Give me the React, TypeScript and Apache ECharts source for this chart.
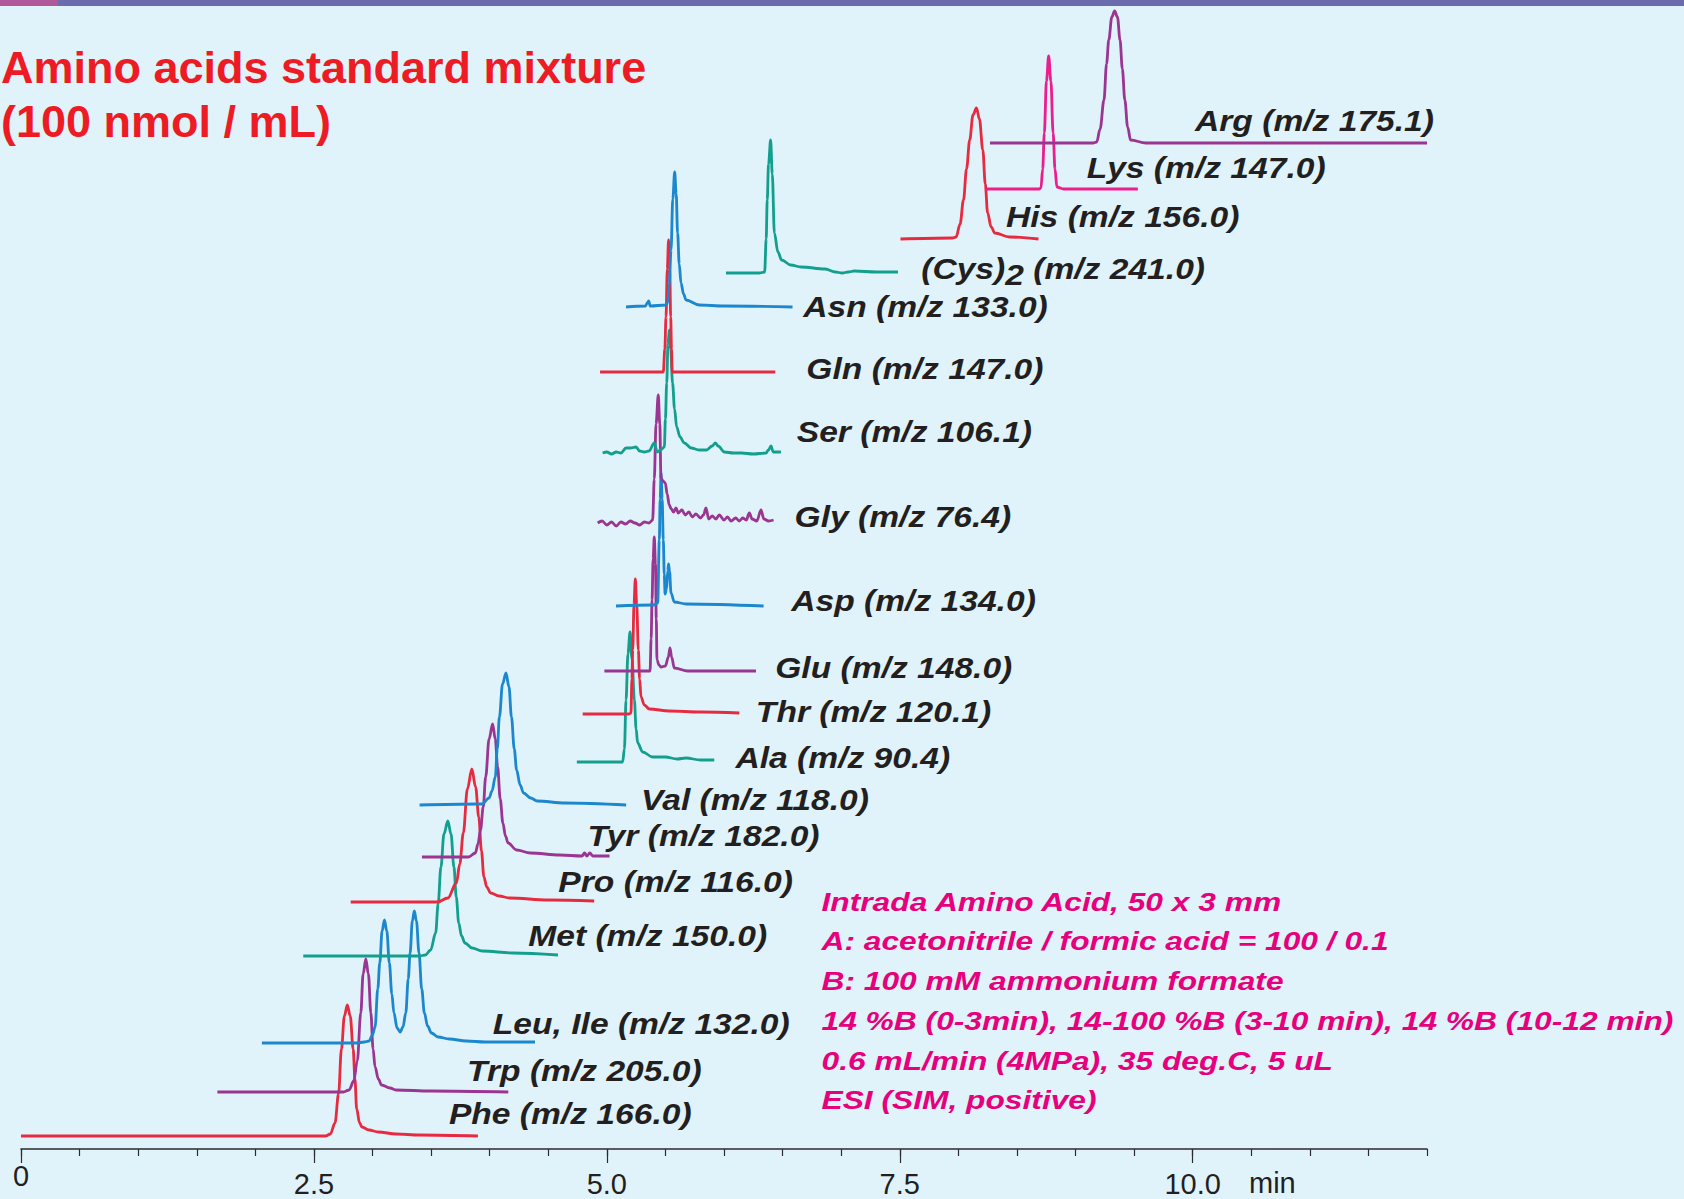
import React, { useEffect, useRef } from "react";
import * as echarts from "echarts";

// ---- colours ----
const RED = "#E62A3F";
const PURPLE = "#9A3592";
const BLUE = "#1A87CE";
const TEAL = "#129F8D";
const PINK = "#EB1E8E";
const BG = "#E1F3FA";
const INK = "#231F20";

// ---- axis ticks (minutes) ----
const minorTicks = [0, 0.5, 1, 1.5, 2, 2.5, 3, 3.5, 4, 4.5, 5, 5.5, 6, 6.5, 7, 7.5, 8, 8.5, 9, 9.5, 10, 10.5, 11, 11.5, 12];
const majorTicks = [0, 2.5, 5, 7.5, 10];

// ---- traces: [retention time (min), stacked signal height] ----
const phe = [[0,13],[2.60,13],[2.64,15],[2.68,26],[2.71,55],[2.735,100],[2.76,133],[2.785,144],[2.81,133],[2.835,100],[2.85,70],[2.865,40],[2.89,26],[2.91,22],[2.97,19],[3.05,17],[3.20,15],[3.40,14],[3.90,13]];
const trp = [[1.676,57],[2.75,57],[2.80,59],[2.84,68],[2.87,88],[2.90,136],[2.92,175],[2.943,190],[2.965,175],[2.986,136],[3.005,100],[3.022,82],[3.05,70],[3.077,64],[3.15,61],[3.20,59],[3.50,58],[4.159,57]];
const leuIle = [[2.056,106],[2.86,106],[2.93,107],[2.97,108],[3.00,114],[3.022,122],[3.045,160],[3.062,186],[3.082,218],[3.102,229],[3.122,218],[3.144,186],[3.165,155],[3.183,136],[3.21,121],[3.236,117],[3.26,122],[3.284,136],[3.305,170],[3.321,196],[3.34,228],[3.357,238],[3.375,228],[3.397,196],[3.42,160],[3.443,136],[3.47,123],[3.503,116],[3.56,112],[3.656,110],[3.80,108],[3.961,107],[4.387,107]];
const met = [[2.409,193],[3.40,193],[3.451,194],[3.496,199],[3.539,216],[3.56,245],[3.584,282],[3.61,315],[3.643,328],[3.67,315],[3.695,282],[3.715,252],[3.736,226],[3.76,213],[3.789,206],[3.85,201],[3.936,198],[4.201,196],[4.583,194]];
const pro = [[2.814,247],[3.50,247],[3.555,247],[3.643,251],[3.716,266],[3.745,285],[3.775,316],[3.81,360],[3.848,380],[3.88,362],[3.907,332],[3.93,298],[3.951,272],[3.975,262],[4.009,256],[4.08,253],[4.171,251],[4.50,249],[4.892,248]];
const tyr = [[3.422,292],[3.819,292],[3.878,296],[3.90,305],[3.922,319],[3.945,342],[3.966,372],[3.995,410],[4.025,425],[4.048,410],[4.068,382],[4.09,350],[4.113,326],[4.135,313],[4.157,306],[4.23,299],[4.347,296],[4.60,294],[4.788,293],[4.81,296],[4.83,293],[4.855,296],[4.88,293],[5.023,293]];
const val = [[3.402,344],[3.90,345],[3.936,345],[3.995,351],[4.02,358],[4.048,372],[4.065,400],[4.083,432],[4.11,465],[4.139,476],[4.165,462],[4.186,432],[4.21,400],[4.23,379],[4.26,364],[4.289,356],[4.35,351],[4.406,348],[4.642,346],[5.165,344]];
const ala = [[4.744,387],[5.0,387],[5.135,387],[5.15,400],[5.164,449],[5.18,495],[5.198,517],[5.215,490],[5.235,449],[5.25,420],[5.263,406],[5.306,397],[5.391,392],[5.50,392],[5.60,390],[5.676,391],[5.80,389],[5.917,389]];
const thr = [[4.794,435],[5.19,435],[5.206,436],[5.214,470],[5.221,499],[5.232,545],[5.243,570],[5.255,545],[5.269,499],[5.28,470],[5.292,452],[5.32,444],[5.363,440],[5.533,438],[5.80,437],[6.131,436]];
const glu = [[4.979,478],[5.369,478],[5.378,510],[5.386,549],[5.395,590],[5.405,612],[5.415,585],[5.422,530],[5.428,489],[5.445,484],[5.462,482],[5.50,483],[5.525,492],[5.539,501],[5.553,492],[5.576,481],[5.69,478],[6.273,478]];
const asp = [[5.078,543],[5.40,544],[5.434,546],[5.448,609],[5.455,650],[5.463,676],[5.472,650],[5.482,609],[5.49,575],[5.497,555],[5.51,560],[5.52,578],[5.527,585],[5.535,578],[5.548,556],[5.576,547],[5.68,545],[6.338,543]];
const gly = [[4.922,626],[4.96,628],[5.0,624],[5.04,627],[5.08,623],[5.12,627],[5.16,625],[5.20,628],[5.24,626],[5.28,624],[5.32,627],[5.36,626],[5.391,629],[5.405,670],[5.42,725],[5.439,754],[5.452,725],[5.462,671],[5.48,668],[5.499,666],[5.515,655],[5.533,644],[5.55,640],[5.57,637],[5.59,641],[5.61,636],[5.64,639],[5.67,634],[5.70,637],[5.73,632],[5.76,635],[5.80,631],[5.825,634],[5.846,641],[5.87,630],[5.90,633],[5.93,630],[5.96,634],[6.00,629],[6.03,632],[6.06,628],[6.10,631],[6.13,628],[6.16,631],[6.19,629],[6.216,636],[6.24,630],[6.28,628],[6.316,639],[6.34,630],[6.38,628],[6.423,629]];
const ser = [[4.964,696],[5.00,697],[5.04,695],[5.08,697],[5.12,696],[5.164,701],[5.20,701],[5.249,702],[5.28,698],[5.32,697],[5.36,698],[5.405,706],[5.43,697],[5.46,699],[5.491,702],[5.50,730],[5.511,766],[5.522,805],[5.533,819],[5.545,800],[5.561,766],[5.578,740],[5.596,722],[5.625,712],[5.661,706],[5.72,701],[5.789,699],[5.85,699],[5.90,703],[5.926,706],[5.95,703],[6.003,697],[6.08,696],[6.15,696],[6.25,695],[6.358,696],[6.38,699],[6.401,703],[6.42,697],[6.486,697]];
const gln = [[4.942,777],[5.482,777],[5.495,800],[5.505,832],[5.516,880],[5.527,909],[5.537,880],[5.545,832],[5.552,800],[5.558,777],[6.438,777]];
const asn = [[5.164,842],[5.33,843],[5.345,846],[5.357,848],[5.37,843],[5.505,844],[5.519,846],[5.533,865],[5.548,899],[5.563,950],[5.579,977],[5.592,955],[5.604,916],[5.618,885],[5.633,866],[5.655,855],[5.676,849],[5.789,844],[6.0,843],[6.585,842]];
const cys2 = [[6.017,876],[6.30,876],[6.347,877],[6.36,910],[6.369,949],[6.38,985],[6.398,1009],[6.412,975],[6.43,916],[6.46,897],[6.492,889],[6.57,884],[6.658,882],[6.864,880],[6.95,877],[7.01,876],[7.06,877],[7.113,878],[7.3,877],[7.485,877]];
const his = [[7.506,910],[7.95,911],[7.981,912],[8.015,925],[8.044,949],[8.07,980],[8.097,1009],[8.125,1034],[8.155,1041],[8.18,1030],[8.209,999],[8.23,965],[8.25,936],[8.28,922],[8.312,916],[8.436,912],[8.684,910]];
const lys = [[8.238,960],[8.69,960],[8.705,961],[8.72,980],[8.734,1016],[8.752,1068],[8.771,1093],[8.79,1068],[8.809,1016],[8.825,980],[8.841,962],[8.90,960],[9.532,960]];
const arg = [[8.270,1006],[9.15,1006],[9.181,1007],[9.21,1020],[9.243,1049],[9.265,1085],[9.284,1109],[9.31,1132],[9.334,1138],[9.358,1132],[9.380,1109],[9.40,1080],[9.421,1049],[9.445,1022],[9.470,1009],[9.60,1006],[12.0,1006]];

// ---- trace names / labels ----
const labels = [
  "Phe (m/z 166.0)", "Trp (m/z 205.0)", "Leu, Ile (m/z 132.0)", "Met (m/z 150.0)", "Pro (m/z 116.0)",
  "Tyr (m/z 182.0)", "Val (m/z 118.0)", "Ala (m/z 90.4)", "Thr (m/z 120.1)", "Glu (m/z 148.0)",
  "Asp (m/z 134.0)", "Gly (m/z 76.4)", "Ser (m/z 106.1)", "Gln (m/z 147.0)", "Asn (m/z 133.0)",
  "(Cys)2 (m/z 241.0)", "His (m/z 156.0)", "Lys (m/z 147.0)", "Arg (m/z 175.1)",
];
const traceData = [phe, trp, leuIle, met, pro, tyr, val, ala, thr, glu, asp, gly, ser, gln, asn, cys2, his, lys, arg];
const traceColors = [RED, PURPLE, BLUE, TEAL, RED, PURPLE, BLUE, TEAL, RED, PURPLE, BLUE, PURPLE, TEAL, RED, BLUE, TEAL, RED, PINK, PURPLE];

// label anchors (left edge, vertical centre) in data units, layout only
const labelAnchors = [
  [3.652, 35], [3.807, 78], [4.027, 125], [4.329, 213], [4.586, 267],
  [4.834, 313], [5.292, 349], [6.098, 391], [6.272, 437], [6.437, 481],
  [6.574, 548], [6.602, 632], [6.621, 717], [6.703, 780], [6.676, 842],
  [7.683, 880], [8.407, 932], [9.095, 981], [10.02, 1028],
];

const titleLines = ["Amino acids standard mixture", "(100 nmol / mL)"];
const noteLines = [
  "Intrada Amino Acid, 50 x 3 mm",
  "A: acetonitrile / formic acid = 100 / 0.1",
  "B: 100 mM ammonium formate",
  "14 %B (0-3min), 14-100 %B (3-10 min), 14 %B (10-12 min)",
  "0.6 mL/min (4MPa), 35 deg.C, 5 uL",
  "ESI (SIM, positive)",
];

const FONT = '"Liberation Sans", Arial, Helvetica, sans-serif';

function measure(text: string, font: string): number {
  const c = document.createElement("canvas").getContext("2d")!;
  c.font = font;
  return c.measureText(text).width;
}

export default function App() {
  const ref = useRef<HTMLDivElement>(null);
  useEffect(() => {
    document.body.style.margin = "0";
    const chart = echarts.init(ref.current!, null, { renderer: "svg" });
    const axisColor = "#2B2B2B";
    chart.setOption({
      animation: false,
      backgroundColor: BG,
      grid: { left: 21, right: 257, top: 0, bottom: 50, containLabel: false },
      xAxis: [
        {
          type: "value", min: 0, max: 12, position: "bottom",
          axisLine: { show: true, lineStyle: { color: axisColor, width: 1.6 } },
          axisTick: { show: true, customValues: minorTicks, length: 7, lineStyle: { color: axisColor, width: 1.2 } },
          axisLabel: { show: false },
          splitLine: { show: false },
        },
        {
          type: "value", min: 0, max: 12, position: "bottom",
          axisLine: { show: false },
          axisTick: { show: true, customValues: majorTicks, length: 14, lineStyle: { color: axisColor, width: 1.2 } },
          axisLabel: {
            show: true, customValues: majorTicks, margin: 20,
            fontSize: 29, fontFamily: FONT, color: INK, lineHeight: 30,
            formatter: (v: number) => (v === 0 ? "{z|0}" : v.toFixed(1)),
            rich: { z: { fontSize: 29, fontFamily: FONT, color: INK, lineHeight: 13 } },
          },
          splitLine: { show: false },
        },
      ],
      yAxis: { type: "value", min: 0, max: 1149, show: false },
      series: traceData.map((d, i) => ({
        name: labels[i],
        type: "line",
        data: d,
        xAxisIndex: 0,
        yAxisIndex: 0,
        showSymbol: false,
        symbol: "none",
        smooth: 0.35,
        smoothMonotone: "x",
        silent: true,
        lineStyle: { color: traceColors[i], width: 2.8 },
        z: 2 + i,
      })),
    });

    const px = (p: number[]) => chart.convertToPixel({ seriesIndex: 0 }, p) as number[];
    const labelFont = `italic bold 30px ${FONT}`;
    const LSX = 1.12;
    const g: any[] = [
      { type: "rect", shape: { x: 0, y: 0, width: 1684, height: 6 }, style: { fill: "#6B6BB0" }, z: 100 },
      { type: "rect", shape: { x: 0, y: 0, width: 58, height: 6 }, style: { fill: "#B0589A" }, z: 101 },
    ];
    const labelStyle = (text: string) => ({
      text, fontSize: 30, fontWeight: "bold", fontStyle: "italic", fontFamily: FONT,
      fill: INK, align: "left", verticalAlign: "middle",
    });
    labels.forEach((lab, i) => {
      const [x, y] = px(labelAnchors[i]);
      if (lab.startsWith("(Cys)2")) {
        const a = "(Cys)";
        const b = "2";
        const c = " (m/z 241.0)";
        const wa = measure(a, labelFont) * LSX;
        const wb = measure(b, labelFont) * LSX;
        g.push({ type: "text", x, y, scaleX: LSX, style: labelStyle(a), z: 50 });
        g.push({ type: "text", x: x + wa, y: y + 6, scaleX: LSX, style: labelStyle(b), z: 50 });
        g.push({ type: "text", x: x + wa + wb, y, scaleX: LSX, style: labelStyle(c), z: 50 });
      } else {
        g.push({ type: "text", x, y, scaleX: LSX, style: labelStyle(lab), z: 50 });
      }
    });
    titleLines.forEach((t, i) => {
      g.push({
        type: "text", x: 1, y: 67 + i * 54.7,
        style: { text: t, fontSize: 45, fontWeight: "bold", fontFamily: FONT, fill: "#ED1C24", align: "left", verticalAlign: "middle" },
        z: 50,
      });
    });
    noteLines.forEach((t, i) => {
      g.push({
        type: "text", x: 821.5, y: 902 + i * 39.7, scaleX: 1.27,
        style: { text: t, fontSize: 25, fontWeight: "bold", fontStyle: "italic", fontFamily: FONT, fill: "#E6007E", align: "left", verticalAlign: "middle" },
        z: 50,
      });
    });
    const [mx] = px([10.68, 0]);
    g.push({
      type: "text", x: mx, y: 1183,
      style: { text: "min", fontSize: 29, fontFamily: FONT, fill: INK, align: "center", verticalAlign: "middle" },
      z: 50,
    });
    chart.setOption({ graphic: g });
    return () => chart.dispose();
  }, []);
  return <div ref={ref} style={{ width: 1684, height: 1199, background: BG }} />;
}
